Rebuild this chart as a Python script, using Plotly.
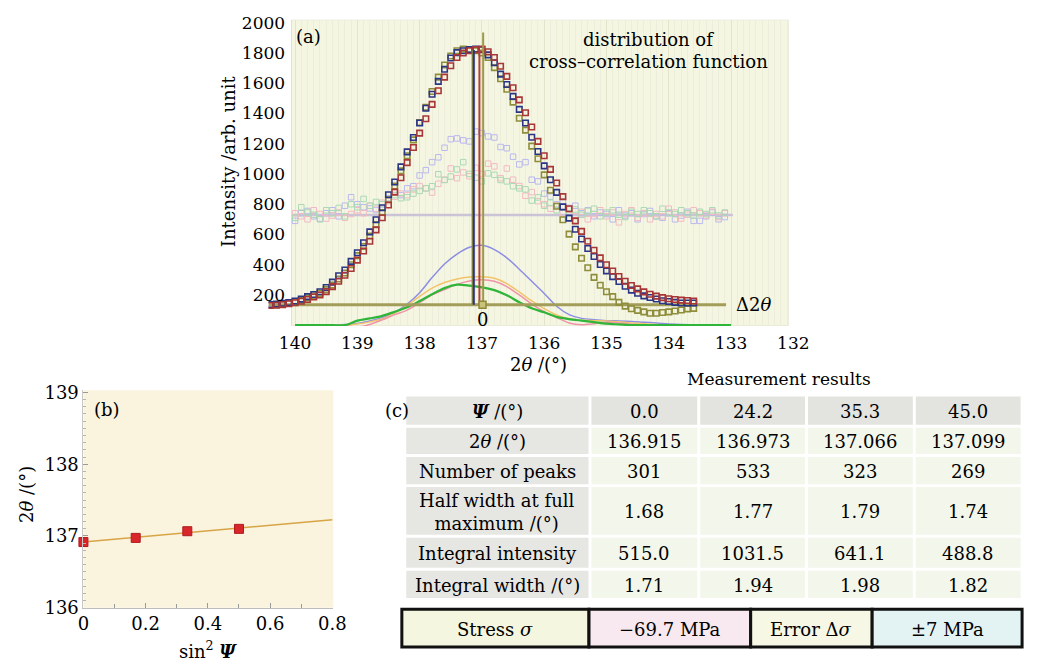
import numpy as np
import plotly.graph_objects as go

W, H = 1041, 661
def fx(px): return px / W
def fy(py): return 1 - py / H

SERIF = "DejaVu Serif"

# ---------------- panel (a) data ----------------
THETA_DARK = [round(140.4 - 0.1 * i, 1) for i in range(69)]
NAVY = [136, 140, 145, 150, 160, 172, 189, 203, 221, 249,
        285, 327, 365, 422, 479, 545, 617, 697, 776, 862,
        947, 1047, 1146, 1241, 1337, 1434, 1527, 1612, 1692, 1767,
        1802, 1815, 1822, 1825, 1822, 1787, 1735, 1660, 1591, 1513,
        1427, 1337, 1243, 1148, 1053, 962, 878, 782, 708, 634,
        570, 507, 454, 401, 359, 321, 289, 257, 232, 211,
        194, 183, 173, 162, 157, 151, 147, 147, 147]
RED = [130, 132, 136, 142, 148, 158, 170, 186, 200, 222,
       255, 290, 330, 375, 430, 490, 555, 630, 710, 795,
       880, 975, 1075, 1175, 1270, 1365, 1460, 1550, 1640, 1715,
       1770, 1800, 1815, 1822, 1825, 1808, 1770, 1712, 1645, 1570,
       1490, 1405, 1310, 1215, 1120, 1030, 940, 850, 770, 690,
       620, 555, 495, 445, 400, 358, 322, 290, 262, 240,
       220, 205, 192, 182, 175, 170, 166, 163, 160]
OLIVE = [135, 136, 140, 145, 155, 165, 180, 195, 210, 235,
         265, 305, 345, 400, 460, 520, 590, 665, 745, 830,
         920, 1020, 1120, 1225, 1340, 1440, 1545, 1640, 1720, 1780,
         1815, 1825, 1822, 1815, 1800, 1770, 1703, 1629, 1560, 1475,
         1368, 1290, 1184, 1100, 994, 892, 786, 697, 602, 518,
         443, 380, 316, 264, 221, 189, 151, 126, 109, 98,
         88, 79, 79, 84, 88, 94, 100, 108, 111]

THETA_LIGHT = [round(140.0 - 0.1 * i, 1) for i in range(70)]
LAVENDER = [690, 740, 755, 720, 705, 740, 760, 720, 790, 846,
            800, 780, 772, 761, 800, 840, 880, 860, 905, 919,
            990, 1025, 1078, 1110, 1173, 1230, 1235, 1222, 1215, 1280,
            1270, 1248, 1241, 1178, 1170, 1114, 1063, 1078, 962, 951,
            870, 850, 800, 820, 775, 790, 740, 760, 720, 745,
            735, 700, 760, 725, 740, 700, 735, 755, 720, 710,
            740, 700, 725, 750, 690, 690, 720, 745, 700, 715]
PINK = [740, 720, 700, 760, 735, 705, 725, 745, 710, 735,
        760, 740, 790, 770, 810, 820, 850, 870, 860, 898,
        920, 905, 877, 935, 962, 1036, 972, 1010, 985, 1040,
        1000, 1068, 1050, 972, 1036, 962, 920, 856, 880, 820,
        800, 770, 790, 740, 765, 720, 750, 700, 735, 760,
        720, 745, 680, 735, 760, 710, 740, 700, 735, 720,
        770, 745, 705, 730, 760, 740, 725, 750, 715, 740]
LIGHTGREEN = [710, 780, 745, 730, 700, 760, 740, 775, 720, 800,
              780, 835, 790, 815, 800, 830, 860, 840, 846, 870,
              888, 905, 919, 998, 960, 983, 1030, 1078, 1000, 975,
              951, 1004, 994, 960, 951, 919, 905, 898, 824, 845,
              790, 810, 760, 780, 740, 765, 730, 755, 770, 720,
              745, 760, 730, 715, 750, 735, 760, 740, 720, 770,
              745, 735, 760, 740, 725, 750, 735, 760, 725, 745]

THETA_LINE = [round(140.0 - 0.2 * i, 1) for i in range(36)]
CURVE_BLUE = [0, 0, 0, 2, 5, 12, 28, 50, 85, 140,
              215, 315, 405, 470, 515, 528, 500, 445, 370, 290,
              210, 125, 70, 45, 36, 30, 28, 25, 20, 15,
              8, 4, 3, 2, 2, 2]
CURVE_ORANGE = [0, 0, 0, 0, 0, 8, 22, 42, 80, 130,
                190, 245, 282, 305, 318, 320, 310, 275, 220, 160,
                110, 68, 42, 32, 30, 28, 22, 15, 10, 5,
                2, 0, 0, 0, 0, 0]
CURVE_PINK = [None, None, None, None, 0, -12, 5, 35, 70, 100,
              150, 200, 235, 270, 292, 300, 290, 255, 200, 140,
              90, 50, 15, 3, 10, 20, 15, 6, 2, 0,
              0, 0, 0, 0, 0, 0]
CURVE_GREEN = [0, 0, 0, 0, 0, 30, 45, 62, 88, 118,
               160, 205, 245, 268, 262, 250, 232, 198, 152, 112,
               85, 55, 40, 30, 20, 10, 5, 0, 0, 0,
               0, 0, 0, 0, 0, 0]

PEAK_POS = [137.15, 137.13, 137.04, 136.98]
PEAK_TOP = [1820, 1820, 1820, 1935]
PEAK_COLORS = ["#8c8a3c", "#2c3382", "#b04040", "#9c9a48"]
DELTA_LEVEL = 135
DELTA_SPAN = [140.42, 133.08]
BASE_LEVEL = 728
BASE_SPAN = [140.05, 132.97]
ZERO_POS = 136.99

A_XTICKS = [140, 139, 138, 137, 136, 135, 134, 133, 132]
A_YTICKS = [200, 400, 600, 800, 1000, 1200, 1400, 1600, 1800, 2000]

# ---------------- table / panel (b) data ----------------
PSI = [0.0, 24.2, 35.3, 45.0]
TWO_THETA = [136.915, 136.973, 137.066, 137.099]
N_PEAKS = [301, 533, 323, 269]
HWFM = [1.68, 1.77, 1.79, 1.74]
INT_INTENSITY = [515.0, 1031.5, 641.1, 488.8]
INT_WIDTH = [1.71, 1.94, 1.98, 1.82]
STRESS = -69.7
STRESS_ERR = 7
ROW_LABELS = ["<b><i>Ψ</i></b> /(°)", "2<i>θ</i> /(°)", "Number of peaks",
              "Half width at full<br>maximum /(°)", "Integral intensity", "Integral width /(°)"]
STRESS_LABELS = ["Stress <i>σ</i>", f"−{abs(STRESS):.1f} MPa", "Error Δ<i>σ</i>",
                 f"±{STRESS_ERR} MPa"]

B_XTICKS = [0, 0.2, 0.4, 0.6, 0.8]
B_YTICKS = [136, 137, 138, 139]

# table geometry (layout, pixels)
COL_EDGES = [407, 596, 707, 817, 927, 1037]
ROW_EDGES = [398, 430, 460, 491, 543, 577, 608]
STRESS_COL_EDGES = [404, 595, 760, 884, 1037]
STRESS_ROW = [618, 657]

fig = go.Figure()

# ---- panel (a) traces ----
fig.add_trace(go.Scatter(x=BASE_SPAN, y=[BASE_LEVEL] * 2, mode="lines",
                         line=dict(color="#cbc4d6", width=2.5), showlegend=False))
for ys, col in [(LAVENDER, "#b9b8ee"), (PINK, "#f3b9c3"), (LIGHTGREEN, "#a9d9b3")]:
    fig.add_trace(go.Scatter(x=THETA_LIGHT, y=ys, mode="markers",
                             marker=dict(symbol="square-open", size=5.5, color=col, line=dict(width=1)),
                             showlegend=False))
for ys, col in [(CURVE_BLUE, "#8c8ee4"), (CURVE_ORANGE, "#f2c46a"), (CURVE_PINK, "#ef94a8"),
                (CURVE_GREEN, "#2fb53a")]:
    fig.add_trace(go.Scatter(x=THETA_LINE, y=ys, mode="lines",
                             line=dict(color=col, width=1.5 if col != "#2fb53a" else 2.2,
                                       shape="spline", smoothing=0.8),
                             connectgaps=False, showlegend=False))
fig.add_trace(go.Scatter(x=DELTA_SPAN, y=[DELTA_LEVEL] * 2, mode="lines",
                         line=dict(color="#a29d58", width=3), showlegend=False))
for ys, col in [(OLIVE, "#8e8d3a"), (NAVY, "#2b3585"), (RED, "#a83636")]:
    fig.add_trace(go.Scatter(x=THETA_DARK, y=ys, mode="markers",
                             marker=dict(symbol="square-open", size=5.5, color=col, line=dict(width=1.6)),
                             showlegend=False))
for xp, top, col in zip(PEAK_POS, PEAK_TOP, PEAK_COLORS):
    fig.add_trace(go.Scatter(x=[xp, xp], y=[DELTA_LEVEL, top], mode="lines",
                             line=dict(color=col, width=2), showlegend=False))
fig.add_trace(go.Scatter(x=[ZERO_POS], y=[DELTA_LEVEL], mode="markers",
                         marker=dict(symbol="square", size=7, color="#c9c27a",
                                     line=dict(color="#8e8a3a", width=1.5)),
                         showlegend=False))

# ---- panel (b) traces ----
sin2 = np.sin(np.radians(PSI)) ** 2
slope, icpt = np.polyfit(sin2, TWO_THETA, 1)
fit_x = np.array([0.0, 0.8])
fig.add_trace(go.Scatter(x=fit_x, y=icpt + slope * fit_x, mode="lines",
                         line=dict(color="#d7a446", width=1.6), xaxis="x2", yaxis="y2",
                         showlegend=False))
fig.add_trace(go.Scatter(x=sin2, y=TWO_THETA, mode="markers",
                         marker=dict(symbol="square", size=9, color="#d8262b",
                                     line=dict(color="#b01a1f", width=1)),
                         xaxis="x2", yaxis="y2", showlegend=False, cliponaxis=False))

# ---- shapes ----
shapes = [
    dict(type="rect", xref="x", yref="y", x0=140.06, x1=132.08, y0=-6, y1=2020,
         fillcolor="#f5f6e2", line=dict(color="#dcdccb", width=1), layer="below"),
    dict(type="rect", xref="x", yref="y", x0=140.425, x1=140.065, y0=-6, y1=2020,
         fillcolor="white", line=dict(width=0), layer="between"),
    dict(type="rect", xref="x", yref="y", x0=132.075, x1=131.977, y0=-6, y1=2020,
         fillcolor="white", line=dict(width=0), layer="between"),
    dict(type="rect", xref="x2 domain", yref="y2 domain", x0=0, x1=1, y0=0, y1=1,
         fillcolor="#faf3de", line=dict(width=0), layer="below"),
]

def ann(text, x, y, xref="paper", angle=0, size=18):
    return dict(text=text, x=x, y=y, xref=xref, yref="paper", showarrow=False,
                xanchor="center", yanchor="middle", textangle=angle,
                font=dict(family=SERIF, size=size, color="black"))

annotations = [
    ann("(a)", fx(309), fy(29)),
    ann("distribution of", fx(656), fy(32)),
    ann("cross–correlation function", fx(656), fy(55)),
    ann("Δ2<i>θ</i>", fx(763), fy(305)),
    ann("0", ZERO_POS, fy(320), xref="x"),
    ann("Intensity /arb. unit", fx(227), fy(157), angle=-90),
    ann("2<i>θ</i> /(°)", fx(543), fy(366)),
    ann("(b)", fx(103), fy(413)),
    ann("2<i>θ</i> /(°)", fx(21), fy(500), angle=-90),
    ann("sin<sup>2</sup> <b><i>Ψ</i></b>", fx(206), fy(660)),
    ann("Measurement results", fx(789), fy(381), size=17),
    ann("(c)", fx(399), fy(414)),
]

# ---- table (c): cells from the data arrays ----
CELL_GRAY = "#e6e6e2"
CELL_HEAD = "#e3e3df"
CELL_GREEN = "#f2f6eb"
table_rows = [[f"{p:.1f}" for p in PSI],
              [f"{v:.3f}" for v in TWO_THETA],
              [f"{v}" for v in N_PEAKS],
              [f"{v:.2f}" for v in HWFM],
              [f"{v:.1f}" for v in INT_INTENSITY],
              [f"{v:.2f}" for v in INT_WIDTH]]
gap = 1.5
for r, (label, vals) in enumerate(zip(ROW_LABELS, table_rows)):
    y0, y1 = ROW_EDGES[r], ROW_EDGES[r + 1]
    for c, txt in enumerate([label] + vals):
        x0, x1 = COL_EDGES[c], COL_EDGES[c + 1]
        col = CELL_GRAY if c == 0 else (CELL_HEAD if r == 0 else CELL_GREEN)
        shapes.append(dict(type="rect", xref="paper", yref="paper",
                           x0=fx(x0 + gap), x1=fx(x1 - gap), y0=fy(y1 - gap), y1=fy(y0 + gap),
                           fillcolor=col, line=dict(width=0), layer="below"))
        annotations.append(ann(txt, fx((x0 + x1) / 2), fy((y0 + y1) / 2 + 1), size=18))

STRESS_FILLS = ["#f4f6df", "#f8e8ef", "#f7f7e6", "#e3f3f3"]
for c, (txt, col) in enumerate(zip(STRESS_LABELS, STRESS_FILLS)):
    x0, x1 = STRESS_COL_EDGES[c], STRESS_COL_EDGES[c + 1]
    shapes.append(dict(type="rect", xref="paper", yref="paper",
                       x0=fx(x0), x1=fx(x1), y0=fy(STRESS_ROW[1]), y1=fy(STRESS_ROW[0]),
                       fillcolor=col, line=dict(color="#111111", width=3), layer="above"))
    annotations.append(ann(txt, fx((x0 + x1) / 2), fy(sum(STRESS_ROW) / 2 + 1), size=18))

tick_font = dict(family=SERIF, size=17, color="black")
fig.update_layout(
    width=W, height=H, margin=dict(l=0, r=0, t=0, b=0),
    paper_bgcolor="white", plot_bgcolor="white",
    font=dict(family=SERIF, color="black"),
    showlegend=False,
    xaxis=dict(domain=[fx(268), fx(805)], range=[140.425, 131.977], tickmode="array",
               tickvals=A_XTICKS, ticks="", showline=False, zeroline=False,
               showgrid=True, gridcolor="#e2e5cc", gridwidth=1,
               minor=dict(dtick=0.1, tick0=132, showgrid=True, gridcolor="#eceedb", gridwidth=1),
               tickfont=tick_font, ticklabelstandoff=5, anchor="y"),
    yaxis=dict(domain=[fy(327), fy(12)], range=[-6, 2020], tickmode="array",
               tickvals=A_YTICKS, ticks="", showline=False, zeroline=False, showgrid=False,
               anchor="free", position=fx(291), tickfont=tick_font, ticklabelstandoff=6),
    xaxis2=dict(domain=[fx(79), fx(334)], range=[0, 0.803], tickmode="array",
                tickvals=B_XTICKS, ticktext=["0", "0.2", "0.4", "0.6", "0.8"],
                ticks="inside", ticklen=5, tickcolor="#9a9a9a",
                minor=dict(dtick=0.1, tick0=0, ticks="inside", ticklen=4, tickcolor="#9a9a9a"),
                showline=True, linecolor="#bdbdbd", zeroline=False, showgrid=False,
                tickfont=dict(family=SERIF, size=18, color="black"), anchor="y2"),
    yaxis2=dict(domain=[fy(616.5), fy(393)], range=[136, 139.03], tickmode="array",
                tickvals=B_YTICKS, ticks="inside", ticklen=5, tickcolor="#9a9a9a",
                minor=dict(dtick=0.1, tick0=136, ticks="inside", ticklen=3, tickcolor="#b5b5b5"),
                showline=True, linecolor="#c8c8c8", zeroline=False, showgrid=False,
                tickfont=dict(family=SERIF, size=18, color="black"), anchor="x2"),
    shapes=shapes,
    annotations=annotations,
)

fig.write_html("out.html")
